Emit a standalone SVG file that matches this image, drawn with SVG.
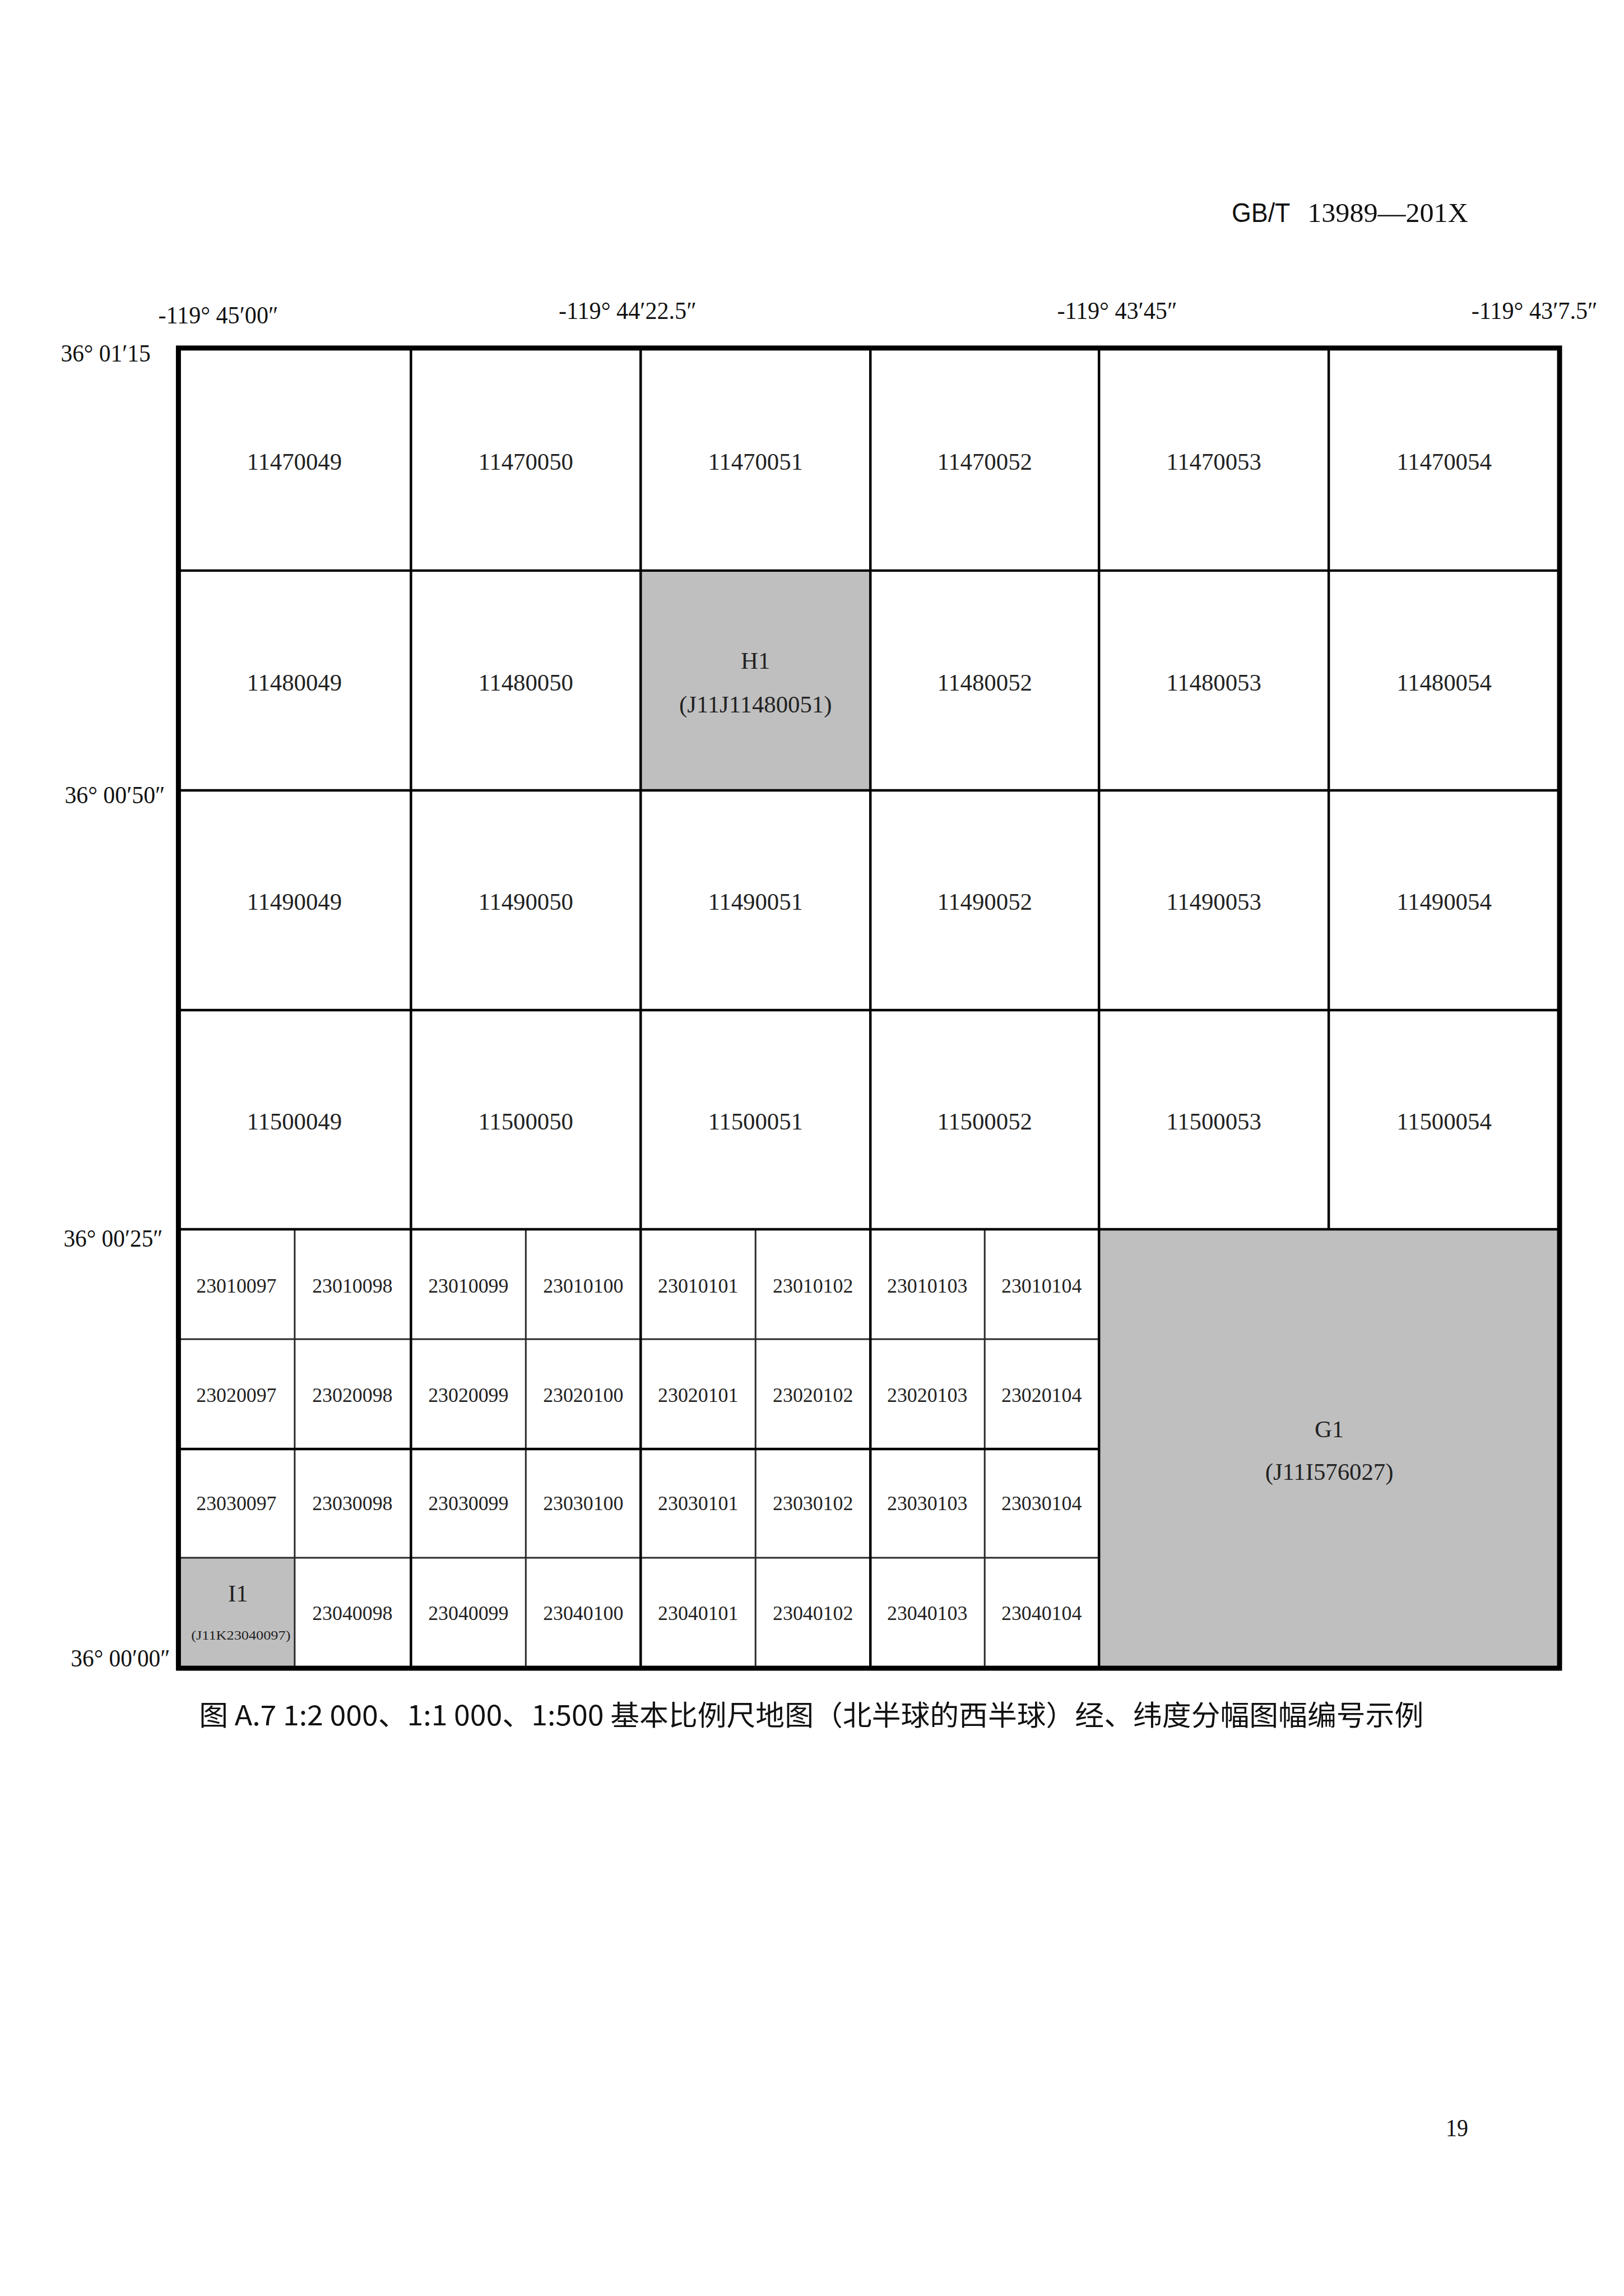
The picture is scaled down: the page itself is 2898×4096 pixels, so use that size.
<svg xmlns="http://www.w3.org/2000/svg" width="2898" height="4096" viewBox="0 0 2898 4096">
<style>
.big{font-family:"Liberation Serif","Noto Sans CJK SC",serif;font-size:43px;fill:#222;text-anchor:middle}
.sm{font-family:"Liberation Serif","Noto Sans CJK SC",serif;font-size:36px;fill:#222;text-anchor:middle}
.tiny{font-family:"Liberation Serif","Noto Sans CJK SC",serif;font-size:24px;fill:#222;text-anchor:middle}
.coord{font-family:"Liberation Serif","Noto Sans CJK SC",serif;font-size:45px;fill:#111}
.hdr{font-family:"Liberation Sans","Noto Sans CJK SC",sans-serif;font-size:48px;fill:#111}
.hdrs{font-family:"Liberation Serif","Noto Sans CJK SC",serif;font-size:48px;fill:#111}
.cap{font-family:"Noto Sans CJK SC","Liberation Sans",sans-serif;font-size:50px;fill:#111}
.pg{font-family:"Liberation Serif",serif;font-size:44px;fill:#111}
.cell{fill:#fff}
.shade{fill:#bfbfbf}
.major{stroke:#000;stroke-width:4.5;fill:none}
.minor{stroke:#2a2a2a;stroke-width:3;fill:none}
.frame{stroke:#000;stroke-width:9;fill:none}
</style>
<rect x="0" y="0" width="2898" height="4096" fill="#fff"/>
<g transform="scale(0.995)">
<text class="hdr" x="2209" y="398" textLength="105" lengthAdjust="spacingAndGlyphs">GB/T</text>
<text class="hdrs" x="2345" y="398" textLength="288" lengthAdjust="spacingAndGlyphs">13989—201X</text>

<g id="coord-labels">
<text class="coord" x="284" y="580" textLength="215" lengthAdjust="spacingAndGlyphs">-119° 45′00″</text>
<text class="coord" x="1002" y="572" textLength="247" lengthAdjust="spacingAndGlyphs">-119° 44′22.5″</text>
<text class="coord" x="1896" y="572" textLength="215" lengthAdjust="spacingAndGlyphs">-119° 43′45″</text>
<text class="coord" x="2639" y="572" textLength="226" lengthAdjust="spacingAndGlyphs">-119° 43′7.5″</text>
<text class="coord" x="109" y="648" textLength="161" lengthAdjust="spacingAndGlyphs">36° 01′15</text>
<text class="coord" x="116" y="1440" textLength="180" lengthAdjust="spacingAndGlyphs">36° 00′50″</text>
<text class="coord" x="114" y="2235" textLength="178" lengthAdjust="spacingAndGlyphs">36° 00′25″</text>
<text class="coord" x="127" y="2988" textLength="178" lengthAdjust="spacingAndGlyphs">36° 00′00″</text>
</g>

<g id="cells-1k">
<g id="c11470049"><text class="big" x="528" y="842">11470049</text></g>
<g id="c11470050"><text class="big" x="943" y="842">11470050</text></g>
<g id="c11470051"><text class="big" x="1355" y="842">11470051</text></g>
<g id="c11470052"><text class="big" x="1766" y="842">11470052</text></g>
<g id="c11470053"><text class="big" x="2177" y="842">11470053</text></g>
<g id="c11470054"><text class="big" x="2590" y="842">11470054</text></g>

<g id="c11480049"><text class="big" x="528" y="1238">11480049</text></g>
<g id="c11480050"><text class="big" x="943" y="1238">11480050</text></g>
<g id="H1"><rect class="shade" x="1149" y="1023" width="412" height="394"/><text class="big" x="1355" y="1199">H1</text><text class="big" x="1355" y="1277">(J11J11480051)</text></g>
<g id="c11480052"><text class="big" x="1766" y="1238">11480052</text></g>
<g id="c11480053"><text class="big" x="2177" y="1238">11480053</text></g>
<g id="c11480054"><text class="big" x="2590" y="1238">11480054</text></g>

<g id="c11490049"><text class="big" x="528" y="1631">11490049</text></g>
<g id="c11490050"><text class="big" x="943" y="1631">11490050</text></g>
<g id="c11490051"><text class="big" x="1355" y="1631">11490051</text></g>
<g id="c11490052"><text class="big" x="1766" y="1631">11490052</text></g>
<g id="c11490053"><text class="big" x="2177" y="1631">11490053</text></g>
<g id="c11490054"><text class="big" x="2590" y="1631">11490054</text></g>

<g id="c11500049"><text class="big" x="528" y="2025">11500049</text></g>
<g id="c11500050"><text class="big" x="943" y="2025">11500050</text></g>
<g id="c11500051"><text class="big" x="1355" y="2025">11500051</text></g>
<g id="c11500052"><text class="big" x="1766" y="2025">11500052</text></g>
<g id="c11500053"><text class="big" x="2177" y="2025">11500053</text></g>
<g id="c11500054"><text class="big" x="2590" y="2025">11500054</text></g>
</g>

<g id="cells-500">
<g id="c23010097"><text class="sm" x="424" y="2318">23010097</text></g>
<g id="c23010098"><text class="sm" x="632" y="2318">23010098</text></g>
<g id="c23010099"><text class="sm" x="840" y="2318">23010099</text></g>
<g id="c23010100"><text class="sm" x="1046" y="2318">23010100</text></g>
<g id="c23010101"><text class="sm" x="1252" y="2318">23010101</text></g>
<g id="c23010102"><text class="sm" x="1458" y="2318">23010102</text></g>
<g id="c23010103"><text class="sm" x="1663" y="2318">23010103</text></g>
<g id="c23010104"><text class="sm" x="1868" y="2318">23010104</text></g>

<g id="c23020097"><text class="sm" x="424" y="2514">23020097</text></g>
<g id="c23020098"><text class="sm" x="632" y="2514">23020098</text></g>
<g id="c23020099"><text class="sm" x="840" y="2514">23020099</text></g>
<g id="c23020100"><text class="sm" x="1046" y="2514">23020100</text></g>
<g id="c23020101"><text class="sm" x="1252" y="2514">23020101</text></g>
<g id="c23020102"><text class="sm" x="1458" y="2514">23020102</text></g>
<g id="c23020103"><text class="sm" x="1663" y="2514">23020103</text></g>
<g id="c23020104"><text class="sm" x="1868" y="2514">23020104</text></g>

<g id="c23030097"><text class="sm" x="424" y="2708">23030097</text></g>
<g id="c23030098"><text class="sm" x="632" y="2708">23030098</text></g>
<g id="c23030099"><text class="sm" x="840" y="2708">23030099</text></g>
<g id="c23030100"><text class="sm" x="1046" y="2708">23030100</text></g>
<g id="c23030101"><text class="sm" x="1252" y="2708">23030101</text></g>
<g id="c23030102"><text class="sm" x="1458" y="2708">23030102</text></g>
<g id="c23030103"><text class="sm" x="1663" y="2708">23030103</text></g>
<g id="c23030104"><text class="sm" x="1868" y="2708">23030104</text></g>

<g id="I1"><rect class="shade" x="320" y="2793" width="208" height="198"/><text class="big" x="427" y="2871">I1</text><text class="tiny" x="432" y="2940" textLength="178" lengthAdjust="spacingAndGlyphs">(J11K23040097)</text></g>
<g id="c23040098"><text class="sm" x="632" y="2905">23040098</text></g>
<g id="c23040099"><text class="sm" x="840" y="2905">23040099</text></g>
<g id="c23040100"><text class="sm" x="1046" y="2905">23040100</text></g>
<g id="c23040101"><text class="sm" x="1252" y="2905">23040101</text></g>
<g id="c23040102"><text class="sm" x="1458" y="2905">23040102</text></g>
<g id="c23040103"><text class="sm" x="1663" y="2905">23040103</text></g>
<g id="c23040104"><text class="sm" x="1868" y="2905">23040104</text></g>
</g>

<g id="G1"><rect class="shade" x="1971" y="2204" width="826" height="787"/><text class="big" x="2384" y="2577">G1</text><text class="big" x="2384" y="2653">(J11I576027)</text></g>

<g id="grid">
<path class="minor" d="M528.5,2204V2991M943,2204V2991M1355,2204V2991M1766,2204V2991M320,2401H1971M320,2793H1971"/>
<path class="major" d="M320,1023H2797M320,1417H2797M320,1811H2797M320,2204H2797M320,2598H1971M737,624V2991M1149,624V2991M1561,624V2991M1971,624V2991M2383,624V2204"/>
<rect class="frame" x="320" y="624" width="2477" height="2367"/>
</g>

<text class="cap" x="357" y="3093" textLength="2196" lengthAdjust="spacingAndGlyphs">图 A.7 1:2 000、1:1 000、1:500 基本比例尺地图（北半球的西半球）经、纬度分幅图幅编号示例</text>
<text class="pg" x="2593" y="3830" textLength="40" lengthAdjust="spacingAndGlyphs">19</text>
</g>
</svg>
